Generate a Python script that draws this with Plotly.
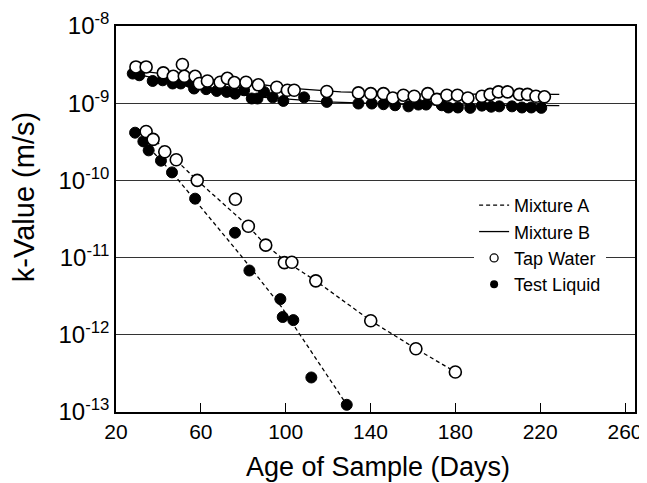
import plotly.graph_objects as go

# Mixture B (upper, nearly flat) -- Tap Water, open circles
b_tap_days = [29.4, 34.2, 42.3, 47.0, 51.3, 52.2, 57.3, 59.3, 63.1, 69.1, 72.5, 75.8, 81.3,
              87.1, 95.8, 100.8, 104.0, 119.4, 134.3, 140.1, 146.1, 150.5, 155.5, 160.6,
              167.0, 171.3, 176.0, 181.0, 185.9, 192.5, 196.4, 200.3, 204.6, 210.2, 214.0,
              218.0, 222.0]
b_tap_k = [2.95e-9, 2.95e-9, 2.47e-9, 2.23e-9, 3.17e-9, 2.23e-9, 2.23e-9, 1.80e-9, 1.94e-9,
           1.87e-9, 2.10e-9, 1.85e-9, 1.87e-9, 1.73e-9, 1.61e-9, 1.47e-9, 1.47e-9, 1.42e-9,
           1.36e-9, 1.33e-9, 1.33e-9, 1.17e-9, 1.27e-9, 1.23e-9, 1.33e-9, 1.12e-9, 1.27e-9,
           1.27e-9, 1.17e-9, 1.23e-9, 1.30e-9, 1.40e-9, 1.40e-9, 1.30e-9, 1.30e-9, 1.23e-9,
           1.21e-9]

# Mixture B -- Test Liquid, filled circles
b_test_days = [27.9, 31.0, 37.3, 42.0, 46.7, 50.5, 54.6, 56.8, 62.5, 67.5, 72.2, 76.1, 80.4,
               84.0, 86.7, 89.8, 93.9, 98.9, 108.7, 119.4, 134.3, 140.6, 146.1, 151.6, 157.9,
               162.6, 166.2, 173.6, 176.7, 181.2, 187.0, 192.5, 196.9, 200.7, 206.7, 211.4,
               215.8, 220.5]
b_test_k = [2.42e-9, 2.30e-9, 1.94e-9, 1.98e-9, 1.80e-9, 1.80e-9, 1.89e-9, 1.55e-9, 1.52e-9,
            1.44e-9, 1.40e-9, 1.33e-9, 1.47e-9, 1.15e-9, 1.15e-9, 1.40e-9, 1.19e-9, 1.07e-9,
            1.19e-9, 1.04e-9, 0.99e-9, 0.99e-9, 0.97e-9, 0.94e-9, 0.91e-9, 0.96e-9, 0.96e-9,
            0.94e-9, 0.88e-9, 0.88e-9, 0.87e-9, 0.93e-9, 0.90e-9, 0.91e-9, 0.91e-9, 0.88e-9,
            0.88e-9, 0.87e-9]

# Mixture B fitted curves (solid)
b_tap_fit_days = [27, 60, 85, 100, 126, 160, 229]
b_tap_fit_k = [2.7e-9, 2.1e-9, 1.8e-9, 1.58e-9, 1.40e-9, 1.32e-9, 1.30e-9]
b_test_fit_days = [27, 55, 85, 119, 160, 229]
b_test_fit_k = [2.45e-9, 1.7e-9, 1.22e-9, 1.04e-9, 0.96e-9, 0.93e-9]

# Mixture A (lower, falling) -- Tap Water
a_tap_days = [34.2, 37.5, 43.0, 48.4, 58.3, 76.3, 82.4, 90.6, 99.4, 102.9, 114.2, 140.1, 161.4, 180.0]
a_tap_k = [4.3e-10, 3.4e-10, 2.35e-10, 1.85e-10, 1.0e-10, 5.7e-11, 2.55e-11, 1.45e-11,
           8.6e-12, 8.7e-12, 5.0e-12, 1.52e-12, 6.6e-13, 3.3e-13]
# Mixture A -- Test Liquid
a_test_days = [29.0, 32.9, 35.4, 41.2, 46.4, 57.3, 76.1, 82.9, 97.5, 98.6, 103.6, 112.1, 128.8]
a_test_k = [4.15e-10, 3.2e-10, 2.45e-10, 1.8e-10, 1.27e-10, 5.8e-11, 2.1e-11, 6.8e-12,
            2.9e-12, 1.7e-12, 1.55e-12, 2.8e-13, 1.24e-13]

# Mixture A fitted curves (dashed)
a_tap_fit_days = [34.2, 58.3, 82.4, 90.6, 101, 114.2, 140.1, 161.4, 180]
a_tap_fit_k = [4.3e-10, 1.0e-10, 2.55e-11, 1.45e-11, 8.6e-12, 5.0e-12, 1.52e-12, 6.6e-13, 3.3e-13]
a_test_fit_days = [29.0, 46.4, 79.3, 98.0, 128.8]
a_test_fit_k = [4.15e-10, 1.27e-10, 1.03e-11, 2.3e-12, 1.24e-13]

x_ticks = [20, 60, 100, 140, 180, 220, 260]
y_ticks = [1e-13, 1e-12, 1e-11, 1e-10, 1e-9, 1e-8]
y_ticktext = ["10<sup>-13</sup>", "10<sup>-12</sup>", "10<sup>-11</sup>",
              "10<sup>-10</sup>", "10<sup>-9</sup>", "10<sup>-8</sup>"]

FONT = "Liberation Sans, Arial, sans-serif"
DASH = "4px,3px"

fig = go.Figure()

# fitted lines
for xs, ys, dash in [(a_tap_fit_days, a_tap_fit_k, DASH), (a_test_fit_days, a_test_fit_k, DASH),
                     (b_tap_fit_days, b_tap_fit_k, "solid"), (b_test_fit_days, b_test_fit_k, "solid")]:
    fig.add_trace(go.Scatter(x=xs, y=ys, mode="lines", showlegend=False,
                             line=dict(color="black", width=1.3, dash=dash)))

# measured points
filled = dict(symbol="circle", size=11, color="black", line=dict(color="black", width=1))
hollow = dict(symbol="circle", size=12, color="white", line=dict(color="black", width=1.6))
fig.add_trace(go.Scatter(x=b_test_days, y=b_test_k, mode="markers", marker=filled, showlegend=False))
fig.add_trace(go.Scatter(x=b_tap_days, y=b_tap_k, mode="markers", marker=hollow, showlegend=False))
fig.add_trace(go.Scatter(x=a_test_days, y=a_test_k, mode="markers", marker=filled, showlegend=False))
fig.add_trace(go.Scatter(x=a_tap_days, y=a_tap_k, mode="markers", marker=hollow, showlegend=False))

# legend entries
fig.add_trace(go.Scatter(x=[None], y=[None], mode="lines", name="Mixture A",
                         line=dict(color="black", width=1.3, dash=DASH)))
fig.add_trace(go.Scatter(x=[None], y=[None], mode="lines", name="Mixture B",
                         line=dict(color="black", width=1.3)))
fig.add_trace(go.Scatter(x=[None], y=[None], mode="markers", name="Tap Water",
                         marker=dict(symbol="circle", size=8, color="white",
                                     line=dict(color="black", width=1.3))))
fig.add_trace(go.Scatter(x=[None], y=[None], mode="markers", name="Test Liquid",
                         marker=dict(symbol="circle", size=8, color="black")))

# page body adds an 8px offset, so the figure is 8px smaller than the window
fig.update_layout(
    width=639, height=475,
    margin=dict(l=108, r=12, t=18, b=71),
    paper_bgcolor="white", plot_bgcolor="white",
    font=dict(family=FONT, color="black", size=20),
    legend=dict(x=0.69, y=0.583, xanchor="left", yanchor="top", bgcolor="white",
                borderwidth=0, font=dict(size=18), traceorder="normal"),
    annotations=[
        dict(text="k-Value (m/s)", textangle=-90, xref="paper", yref="paper",
             x=-0.177, y=0.557, xanchor="center", yanchor="middle",
             showarrow=False, font=dict(size=29)),
        dict(text="Age of Sample (Days)", xref="paper", yref="paper",
             x=0.505, y=-0.1415, xanchor="center", yanchor="middle",
             showarrow=False, font=dict(size=27)),
    ],
)
fig.update_xaxes(range=[20, 264.7], tickvals=x_ticks, ticks="inside", ticklen=9,
                 tickwidth=1.3, tickcolor="black", showline=True, linecolor="black",
                 linewidth=1.5, mirror=True, showgrid=False, zeroline=False,
                 tickfont=dict(size=21), automargin=False)
fig.update_yaxes(type="log", range=[-13, -8], tickvals=y_ticks, ticktext=y_ticktext,
                 showgrid=True, gridcolor="#333333", gridwidth=1.3, ticks="",
                 showline=True, linecolor="black", linewidth=1.5, mirror=True,
                 zeroline=False, tickfont=dict(size=24), automargin=False)

fig.write_html("out.html")
